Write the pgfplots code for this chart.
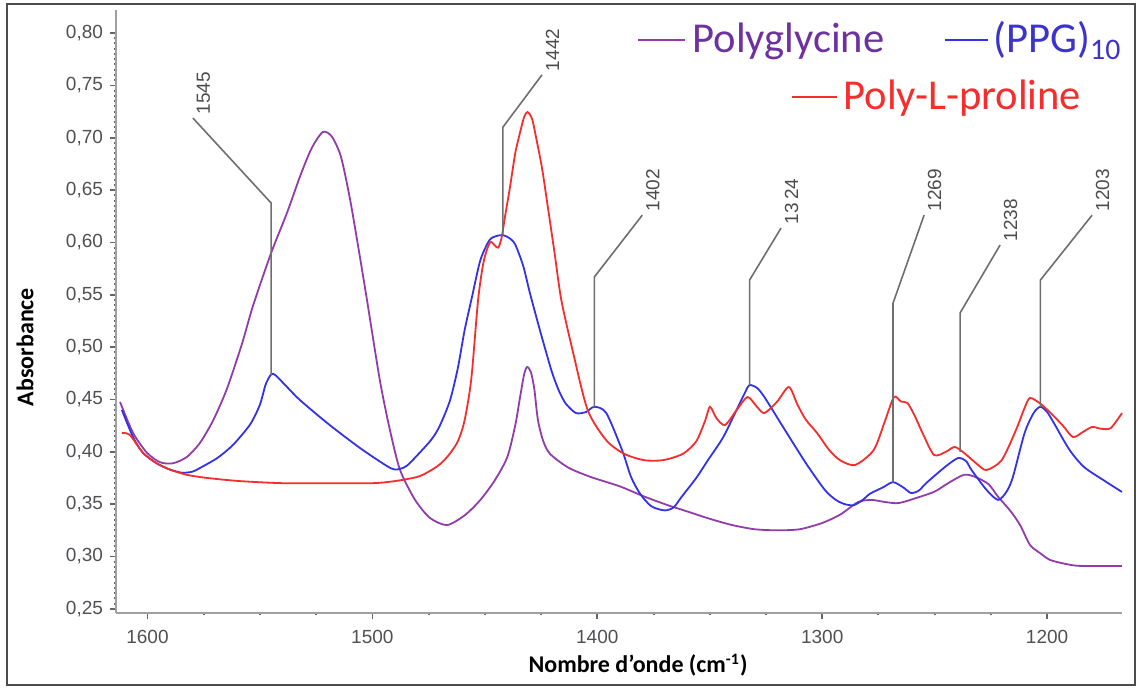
\documentclass[border=0pt]{standalone}
\usepackage{fontspec}
\setmainfont{Liberation Sans}
\newfontfamily\calib{Carlito}
\usepackage{pgfplots}
\pgfplotsset{compat=1.18}
\definecolor{pgly}{RGB}{145,60,170}
\definecolor{ppg}{RGB}{50,50,235}
\definecolor{plp}{RGB}{245,45,45}
\definecolor{pglytxt}{RGB}{110,50,160}
\definecolor{ppgtxt}{RGB}{60,50,205}
\definecolor{axgray}{RGB}{160,160,160}
\definecolor{lblgray}{RGB}{80,80,85}
\definecolor{leadgray}{RGB}{110,110,110}

\begin{document}
\begin{tikzpicture}[x=1pt,y=1pt]
\useasboundingbox (0,0) rectangle (570,343.5);
\draw[line width=1pt, black!70] (3.5,341.5) rectangle (567.5,0.8);
\begin{axis}[
  at={(58pt,37pt)}, anchor=south west,
  scale only axis, width=503pt, height=301.5pt,
  x dir=reverse,
  xmin=1166.7, xmax=1614, ymin=0.246, ymax=0.822,
  axis x line*=bottom, axis y line*=left,
  axis line style={draw=axgray, line width=1pt},
  xtick={1200,1300,1400,1500,1600}, minor x tick num=3,
  ytick={0.25,0.30,...,0.81}, minor y tick num=9,
  tick align=outside, major tick length=3pt, minor tick length=1.2pt,
  every tick/.append style={draw=black!60, line width=0.8pt},
  every minor tick/.append style={draw=black!60, line width=1pt},
  tick label style={font=\fontsize{9.5}{11}\selectfont, text=lblgray},
  /pgf/number format/assume math mode=true,
  yticklabel style={/pgf/number format/.cd, fixed, fixed zerofill, precision=2, use comma},
  xticklabel style={yshift=-2pt, /pgf/number format/.cd, fixed, precision=0, 1000 sep={}},
  scaled y ticks=false,
  clip=false,
  every axis plot/.append style={line width=0.9pt, smooth, tension=0.45},
]
% Polyglycine
\addplot[pgly] coordinates {
(1612.2,0.4476) (1606.4,0.418) (1600.2,0.399) (1594.4,0.390) (1588.7,0.389) (1582.5,0.395)
(1576.7,0.4084) (1570.8,0.430) (1564.7,0.460) (1558,0.503) (1553,0.540) (1545,0.590)
(1538,0.628) (1532,0.664) (1527,0.690) (1522,0.7055) (1518,0.701) (1514,0.682) (1510,0.642)
(1506,0.592) (1502.4,0.545) (1496.7,0.4686) (1492.2,0.4208) (1487.7,0.3826) (1481,0.354)
(1474.4,0.3368) (1466.8,0.330) (1458.8,0.3396) (1452,0.354) (1445.5,0.373) (1440,0.395)
(1436.5,0.425) (1434.5,0.450) (1432.6,0.4733) (1431.2,0.481) (1429.5,0.476) (1428,0.460)
(1426.4,0.4304) (1424,0.410) (1421,0.398) (1413,0.385) (1403,0.376) (1390,0.367) (1380,0.358)
(1370,0.350) (1360,0.343) (1350,0.336) (1340,0.330) (1330,0.326) (1320,0.325) (1310,0.326)
(1300,0.332) (1292,0.340) (1284,0.352) (1278,0.354) (1272,0.352) (1266,0.351) (1258,0.356)
(1250,0.362) (1244,0.370) (1237,0.378) (1232,0.376) (1226,0.369) (1221.8,0.357) (1216.5,0.344)
(1212,0.330) (1207.6,0.311) (1203,0.303) (1198.7,0.2967) (1192,0.293) (1185.4,0.291) (1166.7,0.291)
};
% (PPG)10
\addplot[ppg] coordinates {
(1611.4,0.440) (1606.4,0.414) (1602,0.399) (1596,0.389) (1590,0.383) (1584.7,0.380) (1580,0.381)
(1576.7,0.3845) (1569,0.394) (1562,0.4065) (1554.4,0.426) (1550,0.445) (1547.5,0.464) (1545,0.474)
(1543,0.473) (1538,0.462) (1532,0.449) (1519,0.4256) (1505.5,0.4036) (1494,0.387) (1490,0.383)
(1486,0.385) (1483,0.390) (1474,0.411) (1470,0.425) (1465.5,0.449) (1462,0.480) (1459,0.516)
(1455.7,0.548) (1452,0.583) (1448,0.602) (1445,0.606) (1442,0.607) (1439,0.604) (1436.5,0.598)
(1433,0.578) (1430,0.552) (1426,0.520) (1423,0.497) (1420,0.475) (1417,0.458) (1414,0.446)
(1409.5,0.437) (1405,0.438) (1401.3,0.443) (1396,0.437) (1389,0.4017) (1385,0.376) (1381,0.360)
(1376,0.348) (1370,0.344) (1366,0.347) (1362.5,0.357) (1356,0.375) (1350.8,0.392) (1344,0.414)
(1337.4,0.443) (1334,0.458) (1332.3,0.4638) (1329,0.461) (1325.7,0.4523) (1317.4,0.4237)
(1307.2,0.389) (1298.8,0.3635) (1293.9,0.354) (1290,0.350) (1286,0.349) (1282,0.354)
(1278.7,0.360) (1273,0.366) (1268.5,0.371) (1264,0.366) (1260.5,0.3606) (1257,0.363)
(1253.8,0.370) (1245.4,0.3855) (1239.6,0.394) (1236,0.391) (1233.6,0.3826) (1226.9,0.3635)
(1221.8,0.354) (1218,0.362) (1215.2,0.376) (1210,0.418) (1206,0.437) (1203,0.443) (1200,0.438)
(1197,0.4275) (1190,0.4017) (1183.6,0.3855) (1175,0.373) (1166.7,0.3616)
};
% Poly-L-proline
\addplot[plp] coordinates {
(1611.4,0.418) (1607.8,0.416) (1602,0.399) (1595.8,0.389) (1590,0.383) (1582.5,0.378)
(1573.5,0.375) (1558.9,0.372) (1539.8,0.370) (1520,0.370) (1500,0.370) (1490,0.372) (1480,0.376)
(1475,0.381) (1470,0.388) (1466,0.397) (1462,0.410) (1459,0.430) (1456,0.470) (1453,0.545)
(1450.5,0.582) (1447.7,0.600) (1445.5,0.597) (1444,0.595) (1442.5,0.605) (1441,0.625)
(1438.8,0.653) (1436.5,0.685) (1434.4,0.7045) (1432.5,0.720) (1431,0.7245) (1429,0.718)
(1427,0.698) (1424.5,0.670) (1422,0.634) (1419,0.590) (1416,0.545) (1411,0.497) (1404.3,0.440)
(1396,0.411) (1388,0.398) (1379.2,0.392) (1370.8,0.392) (1362,0.398) (1356,0.410) (1352,0.430)
(1349.9,0.443) (1347,0.432) (1343.2,0.4256) (1338,0.440) (1333.2,0.4523) (1329,0.443)
(1325.7,0.437) (1320,0.448) (1314.8,0.4619) (1311,0.445) (1307.2,0.4304) (1302.3,0.418)
(1297,0.402) (1292.1,0.392) (1285.4,0.3874) (1277.1,0.4017) (1272,0.430) (1268.1,0.4523)
(1265,0.448) (1262.1,0.4466) (1259,0.435) (1255.4,0.418) (1250.3,0.397) (1245,0.400)
(1241.1,0.4046) (1236.9,0.3989) (1231,0.388) (1226.9,0.3826) (1220.2,0.392) (1214,0.420)
(1210,0.442) (1207.6,0.4514) (1203,0.446) (1198.4,0.437) (1193,0.425) (1188.5,0.4141)
(1184,0.419) (1180,0.4237) (1176,0.422) (1171.7,0.4227) (1166.7,0.437)
};
% peak markers
\tikzset{lead/.style={draw=leadgray, line width=0.8pt},
  plab/.style={rotate=90, anchor=north west, inner sep=1.5pt, text=black!70,
    font=\fontsize{9.5}{11}\selectfont}}
\draw[lead] (axis cs:1545,0.473) -- (axis cs:1545,0.6376) -- (axis cs:1579.8,0.7188) node[plab]{1545};
\draw[lead] (axis cs:1442,0.607) -- (axis cs:1442,0.710) -- (axis cs:1424.6,0.760) node[plab]{1442};
\draw[lead] (axis cs:1401.3,0.443) -- (axis cs:1401.3,0.567) -- (axis cs:1380,0.626) node[plab]{1402};
\draw[lead] (axis cs:1332.3,0.4638) -- (axis cs:1332.3,0.564) -- (axis cs:1318.3,0.6137) node[plab]{13\,24};
\draw[lead] (axis cs:1268.5,0.371) -- (axis cs:1268.5,0.542) -- (axis cs:1254.7,0.626) node[plab]{1269};
\draw[lead] (axis cs:1238.7,0.400) -- (axis cs:1238.7,0.5326) -- (axis cs:1220.9,0.5975) node[plab]{1238};
\draw[lead] (axis cs:1203,0.443) -- (axis cs:1203,0.564) -- (axis cs:1180,0.626) node[plab]{1203};
\end{axis}
% axis titles
\node[rotate=90, font=\calib\bfseries\fontsize{12}{14}\selectfont] at (12.5,170) {Absorbance};
\node[font=\calib\bfseries\fontsize{12}{14}\selectfont] at (319,11) {Nombre d’onde (cm\textsuperscript{-1})};
% legend
\begin{scope}[font=\calib\fontsize{21.3}{23}\selectfont]
\draw[pgly, line width=0.8pt] (319,323.5) -- (342.5,323.5);
\node[anchor=base west, inner sep=0pt, text=pglytxt] at (346,317) {Polyglycine};
\draw[ppg, line width=0.8pt] (472.5,323.5) -- (494,323.5);
\node[anchor=base west, inner sep=0pt, text=ppgtxt] at (496.5,317) {(PPG)\textsubscript{10}};
\draw[plp, line width=0.8pt] (396,295) -- (418.5,295);
\node[anchor=base west, inner sep=0pt, text=plp] at (421.5,288.5) {Poly-L-proline};
\end{scope}
\end{tikzpicture}
\end{document}
